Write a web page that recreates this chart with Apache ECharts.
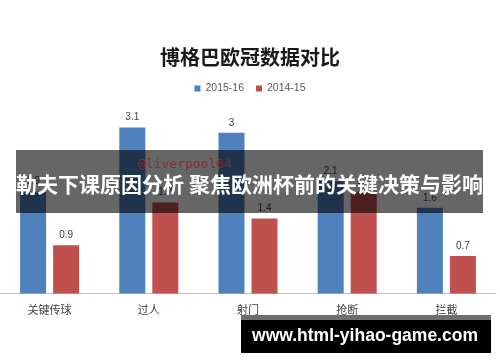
<!DOCTYPE html>
<html><head><meta charset="utf-8">
<script src="https://cdn.jsdelivr.net/npm/echarts@6/dist/echarts.min.js"></script>
<style>html,body{margin:0;padding:0;background:#fff}#c{width:500px;height:362px}</style>
</head><body><div id="c"></div>
<script>
const titleText = '博格巴欧冠数据对比';
const categories = ['关键传球', '过人', '射门', '抢断', '拦截'];
const seriesNames = ['2015-16', '2014-15'];
const values1516 = [1.9, 3.1, 3.0, 2.1, 1.6];
const values1415 = [0.9, 1.7, 1.4, 1.9, 0.7];
const bannerText = '勒夫下课原因分析 聚焦欧洲杯前的关键决策与影响';
const watermarkText = '@liverpool64';
const siteText = 'www.html-yihao-game.com';

const chart = echarts.init(document.getElementById('c'), null, {renderer: 'canvas'});
const labelCfg = {show: true, position: 'top', distance: 5, fontSize: 10, color: '#404040', fontFamily: 'Liberation Sans, Arial, sans-serif'};
chart.setOption({
  animation: false,
  backgroundColor: '#ffffff',
  title: {
    text: titleText, left: 'center', top: 42,
    textStyle: {fontSize: 20, fontWeight: 'bold', color: '#1a1a1a', fontFamily: 'Noto Sans CJK SC'}
  },
  legend: {
    top: 78, left: 'center', icon: 'rect', itemWidth: 6, itemHeight: 6, itemGap: 12,
    textStyle: {fontSize: 10.5, color: '#595959', fontFamily: 'Liberation Sans, Arial, sans-serif'},
    data: seriesNames
  },
  grid: {left: 0, right: 4, top: 106, height: 187.5},
  xAxis: {
    type: 'category', data: categories,
    axisLine: {lineStyle: {color: '#bfbfbf', width: 1}},
    axisTick: {show: false},
    axisLabel: {margin: 11, fontSize: 11, color: '#404040', fontFamily: 'Noto Sans CJK SC'}
  },
  yAxis: {type: 'value', min: 0, max: 3.5, show: false, splitLine: {show: false}},
  series: [
    {name: seriesNames[0], type: 'bar', data: values1516, barWidth: 26, barGap: '27%',
     itemStyle: {color: '#4f81bd'}, label: labelCfg},
    {name: seriesNames[1], type: 'bar', data: values1415, barWidth: 26, barGap: '27%',
     itemStyle: {color: '#c0504d'}, label: labelCfg}
  ],
  graphic: [
    {type: 'rect', z: 100, shape: {x: 16, y: 150, width: 467, height: 63}, style: {fill: 'rgba(0,0,0,0.6)'}},
    {type: 'text', z: 101, x: 138, y: 165, style: {text: watermarkText, font: '13px "DejaVu Sans Mono", monospace', fill: '#8a2b2b', align: 'left', verticalAlign: 'middle'}},
    {type: 'text', z: 102, x: 249.5, y: 184, style: {text: bannerText, font: 'bold 21px "Noto Sans CJK SC"', fill: '#ffffff', align: 'center', verticalAlign: 'middle'}},
    {type: 'rect', z: 100, shape: {x: 241, y: 315, width: 250, height: 5}, style: {fill: '#6e6e6e'}},
    {type: 'rect', z: 100, shape: {x: 241, y: 320, width: 250, height: 33}, style: {fill: '#000000'}},
    {type: 'text', z: 101, x: 365, y: 336.5, style: {text: siteText, font: 'bold 17.5px "Liberation Sans", Arial, sans-serif', fill: '#ffffff', align: 'center', verticalAlign: 'middle'}}
  ]
});
</script></body></html>
